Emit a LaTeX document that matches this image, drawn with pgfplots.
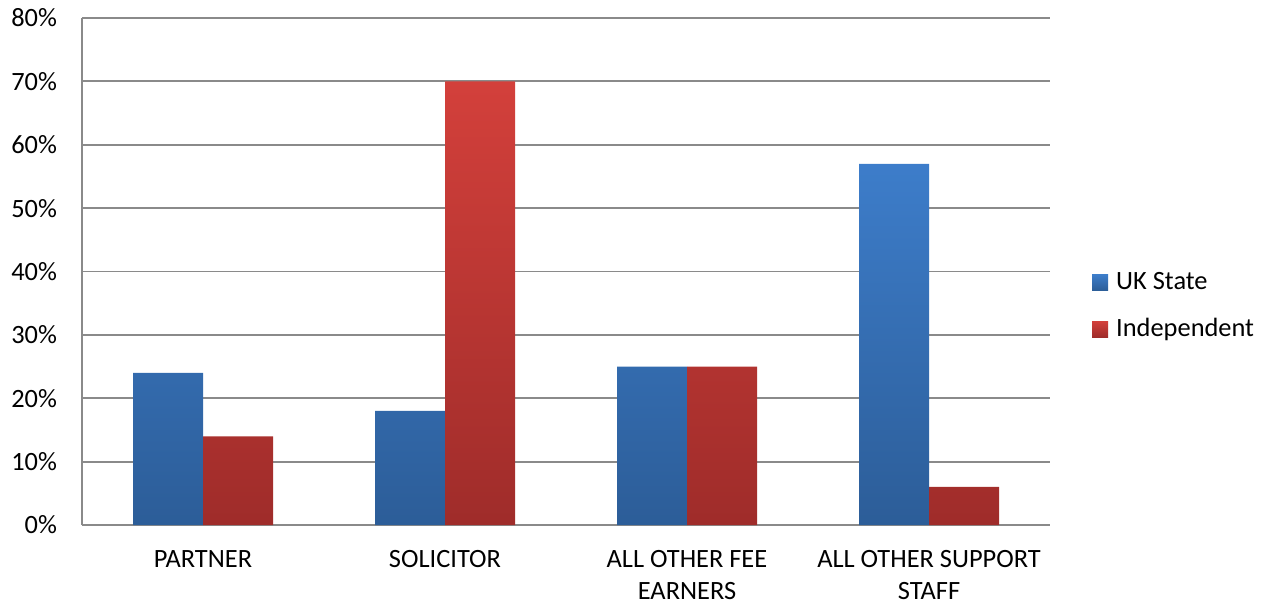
\documentclass[border=0pt]{standalone}
\usepackage{fontspec}
\setmainfont{Carlito}
\usepackage{pgfplots}
\pgfplotsset{compat=1.18}

\definecolor{gridgray}{HTML}{8A8A8A}
\definecolor{blueTop}{HTML}{3D7DCA}
\definecolor{blueBot}{HTML}{2C5D98}
\definecolor{redTop}{HTML}{D3403B}
\definecolor{redBot}{HTML}{9F2C2A}

\begin{document}
\begin{tikzpicture}[font=\fontsize{13.2}{16}\selectfont]
\begin{axis}[
    scale only axis,
    width=484pt,
    height=253.5pt,
    ybar=0pt,
    bar width=35pt,
    xmin=-0.5, xmax=3.5,
    ymin=0, ymax=80,
    xtick={0,1,2,3},
    xticklabels={PARTNER, SOLICITOR, {ALL OTHER FEE\\EARNERS}, {ALL OTHER SUPPORT\\STAFF}},
    xticklabel style={align=center, yshift=-9pt},
    ytick={0,10,...,80},
    yticklabel={\pgfmathprintnumber{\tick}\%},
    yticklabel style={xshift=-9pt},
    /pgf/number format/assume math mode=true,
    major tick length=0pt,
    tick style={draw=none},
    axis lines*=left,
    axis line style={-, draw=gridgray, line width=0.9pt},
    ymajorgrids,
    grid style={draw=gridgray, line width=0.9pt},
    legend style={at={(1.037,0.432)}, anchor=west, draw=none, fill=none,
        row sep=9pt, font=\fontsize{13.2}{16}\selectfont,
        /tikz/every odd column/.append style={column sep=2pt}},
    legend cell align=left,
    legend image code/.code={\path[#1, draw=none] (0pt,-4pt) rectangle (8pt,4pt);},
]
\addplot[draw=none, top color=blueTop, bottom color=blueBot] coordinates {
    (0,24) (1,18) (2,25) (3,57)
};
\addplot[draw=none, top color=redTop, bottom color=redBot] coordinates {
    (0,14) (1,70) (2,25) (3,6)
};
\legend{UK State, Independent}
\end{axis}
\pgfresetboundingbox
\useasboundingbox (-41pt,-40.5pt) rectangle (595.5pt,262.5pt);
\end{tikzpicture}
\end{document}
